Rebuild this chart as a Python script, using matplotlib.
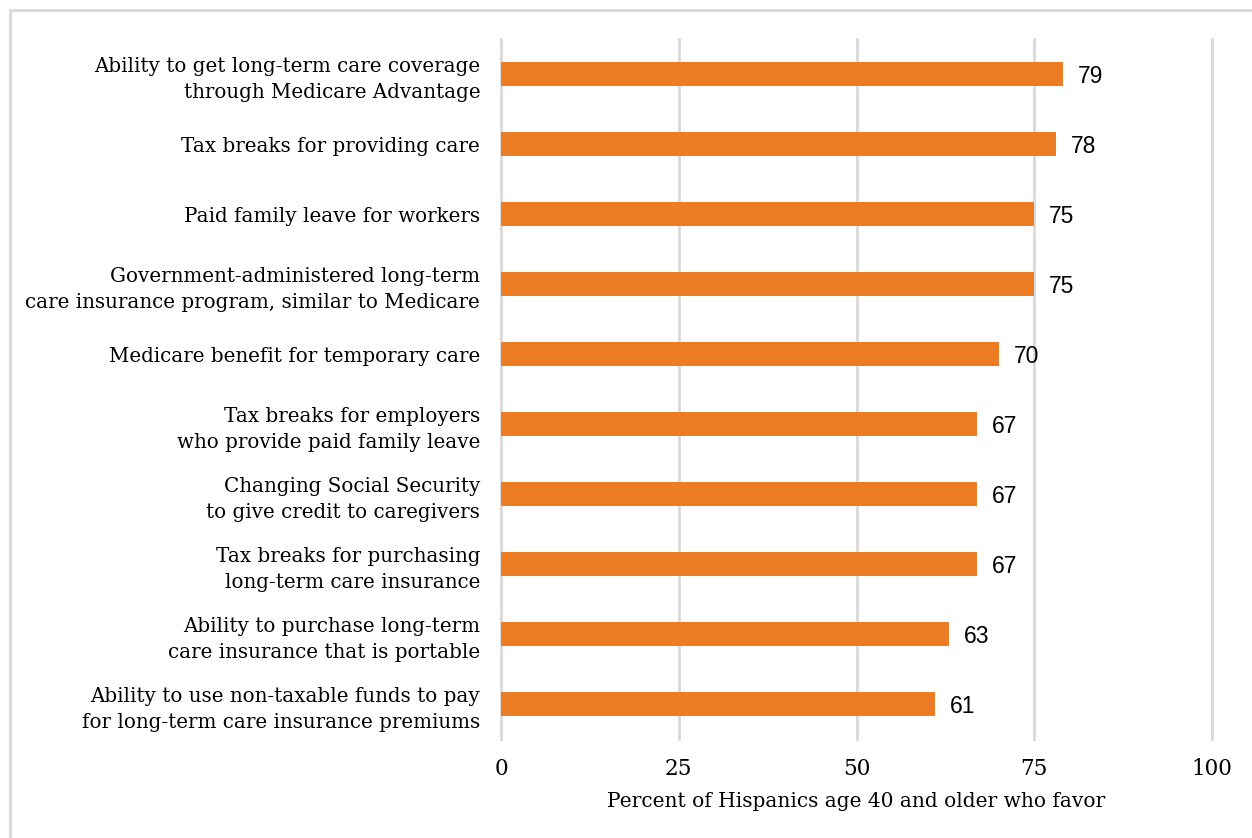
import matplotlib
matplotlib.use("Agg")
from matplotlib import pyplot as plt
from matplotlib.patches import Rectangle

# Policy options and share of Hispanics 40+ who favor each
policies = [
    "Ability to get long-term care coverage\nthrough Medicare Advantage",
    "Tax breaks for providing care",
    "Paid family leave for workers",
    "Government-administered long-term\ncare insurance program, similar to Medicare",
    "Medicare benefit for temporary care",
    "Tax breaks for employers\nwho provide paid family leave",
    "Changing Social Security\nto give credit to caregivers",
    "Tax breaks for purchasing\nlong-term care insurance",
    "Ability to purchase long-term\ncare insurance that is portable",
    "Ability to use non-taxable funds to pay\nfor long-term care insurance premiums",
]
favor = [79, 78, 75, 75, 70, 67, 67, 67, 63, 61]
xticks = [0, 25, 50, 75, 100]

orange = "#ED7D25"
grid_grey = "#D9D9D9"
label_font = "DejaVu Serif"
num_font = "Liberation Sans"

fig = plt.figure(figsize=(12.52, 8.38), dpi=100)

# light grey frame around the chart
fig.patches.append(Rectangle((10 / 1252, -0.05), 1.2, 1.05 - 10 / 838,
                             transform=fig.transFigure, fill=False,
                             edgecolor=grid_grey, linewidth=2))

ax = fig.add_axes([501 / 1252, 1 - 739 / 838, 711 / 1252, 700 / 838])

ypos = list(range(len(policies)))
ax.barh(ypos, favor, height=0.34, color=orange, zorder=3)

for y, v in zip(ypos, favor):
    ax.text(v + 2.1, y + 0.03, str(v), va="center", ha="left", fontsize=16.5,
            family=num_font, color="black")

ax.set_xlim(0, 100)
ax.set_ylim(len(policies) - 0.5, -0.5)
ax.set_xticks(xticks)
ax.set_xticklabels([str(t) for t in xticks], fontsize=15.5, family=label_font)
ax.set_yticks(ypos)
ax.set_yticklabels(policies, fontsize=14.3, family=label_font, linespacing=1.45)
ax.tick_params(axis="both", length=0)
ax.tick_params(axis="y", pad=15)
ax.tick_params(axis="x", pad=14)

ax.xaxis.grid(True, color=grid_grey, linewidth=2, zorder=0)
ax.set_axisbelow(True)
# keep the edge gridlines (0 and 100) at full width
for gl in ax.get_xgridlines():
    gl.set_clip_on(False)
for s in ax.spines.values():
    s.set_visible(False)

ax.set_xlabel("Percent of Hispanics age 40 and older who favor", fontsize=14.5,
              family=label_font, labelpad=8)

fig.savefig("out.png", dpi=100, facecolor="white")
